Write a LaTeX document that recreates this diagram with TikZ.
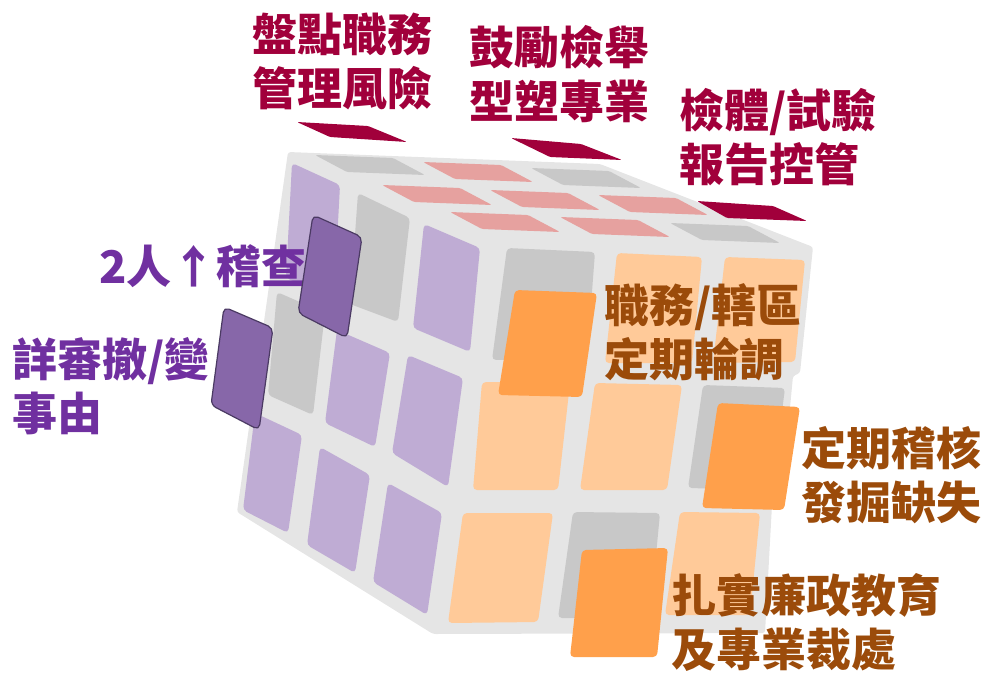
\documentclass[tikz,border=0pt]{standalone}
\usepackage{fontspec}
\newfontfamily\cjk{Noto Sans CJK TC}
\definecolor{cbody}{RGB}{229,229,229}
\definecolor{cgray}{RGB}{200,200,200}
\definecolor{cpurl}{RGB}{191,172,212}
\definecolor{cdpur}{RGB}{135,103,169}
\definecolor{cdpbd}{RGB}{75,58,99}
\definecolor{cpink}{RGB}{230,161,159}
\definecolor{corl}{RGB}{255,202,153}
\definecolor{corb}{RGB}{255,160,75}
\definecolor{cmar}{RGB}{161,0,59}
\definecolor{tpur}{RGB}{112,48,160}
\definecolor{tbrn}{RGB}{155,75,10}
\newcommand\topsticker[3]{\fill[#3] (#1,#2) -- ++(78,3) -- ++(32,17) -- ++(-78,-3) -- cycle;}
\begin{document}
\begin{tikzpicture}[x=0.75pt,y=-0.75pt,
  bodyshape/.style={fill=cbody, rounded corners=2pt},
  gs/.style={fill=cgray, rounded corners=3pt},
  ps/.style={fill=cpurl, rounded corners=3pt},
  pk/.style={fill=cpink, rounded corners=1.2pt},
  gt/.style={fill=cgray, rounded corners=1.2pt},
  lo/.style={fill=corl, rounded corners=3pt},
  bo/.style={fill=corb, rounded corners=3pt},
  dp/.style={fill=cdpur, draw=cdpbd, line width=0.9pt, rounded corners=4pt},
  mb/.style={fill=cmar, rounded corners=1pt},
  lbl/.style={font=\cjk\bfseries\fontsize{33.75}{40.5}\selectfont, align=left, anchor=west, inner sep=0pt}]
\useasboundingbox (0,0) rectangle (987,672);
% cube body
\fill[bodyshape] (288,152) -- (600,164) -- (813,247) -- (800,373) -- (793,376) -- (781,502) -- (772,505) -- (765,633) -- (433,634) -- (237,512) -- cycle;
% top face
\topsticker{315}{155}{gt}
\topsticker{423}{162}{pk}
\topsticker{531}{168}{gt}
\topsticker{382}{185}{pk}
\topsticker{490}{190}{pk}
\topsticker{598}{195}{pk}
\topsticker{450}{212}{pk}
\topsticker{560}{217}{pk}
\topsticker{670}{223}{gt}
% left face
\fill[ps] (292,163) -- (340,185) -- (334,298) -- (286,278) -- cycle;
\fill[gs] (358,193) -- (410,218) -- (398,322) -- (350,304) -- cycle;
\fill[ps] (424,224) -- (480,248) -- (470,352) -- (413,328) -- cycle;
\fill[gs] (277,292) -- (325,313) -- (313,415) -- (268,395) -- cycle;
\fill[ps] (337,330) -- (390,353) -- (375,447) -- (325,423) -- cycle;
\fill[ps] (408,355) -- (463,378) -- (448,487) -- (392,453) -- cycle;
\fill[ps] (255,413) -- (302,435) -- (288,533) -- (243,510) -- cycle;
\fill[ps] (320,447) -- (370,475) -- (355,573) -- (307,545) -- cycle;
\fill[ps] (388,483) -- (442,513) -- (427,615) -- (373,582) -- cycle;
% right face
\fill[gs] (507,248) -- (595,252) -- (587,358) -- (492,360) -- cycle;
\fill[lo] (617,253) -- (702,257) -- (692,363) -- (605,363) -- cycle;
\fill[lo] (725,257) -- (805,260) -- (795,362) -- (713,363) -- cycle;
\fill[lo] (482,382) -- (570,383) -- (558,490) -- (473,490) -- cycle;
\fill[lo] (595,383) -- (682,385) -- (667,490) -- (580,490) -- cycle;
\fill[gs] (703,385) -- (785,388) -- (772,490) -- (688,488) -- cycle;
\fill[lo] (463,513) -- (553,513) -- (538,622) -- (448,623) -- cycle;
\fill[gs] (573,512) -- (660,513) -- (650,618) -- (558,618) -- cycle;
\fill[lo] (680,512) -- (760,513) -- (750,615) -- (665,615) -- cycle;
% floating top bars
\fill[mb] (297,122) -- (368,126) -- (407,142) -- (330,137) -- cycle;
\fill[mb] (511,138) -- (581,144) -- (622,160) -- (550,157) -- cycle;
\fill[mb] (697,201) -- (773,206) -- (807,221) -- (727,218) -- cycle;
% labels
\node[lbl, text=cmar] (t1) at (252,61.5) {盤點職務\\管理風險};
\node[lbl, text=cmar] (t2) at (469,74) {鼓勵檢舉\\型塑專業};
\node[lbl, text=cmar] (t3) at (679,137) {檢體/試驗\\報告控管};
\node[lbl, text=tpur] (t4) at (99,266.5) {2人↑稽查};
\node[lbl, text=tpur] (t5) at (12,386.5) {詳審撤/變\\事由};
\node[lbl, text=tbrn] (t6) at (604,332.5) {職務/轄區\\定期輪調};
\node[lbl, text=tbrn] (t7) at (801,475.5) {定期稽核\\發掘缺失};
\node[lbl, text=tbrn] (t8) at (671,622) {扎實廉政教育\\及專業裁處};
% floating stickers
\draw[dp] (313,215) -- (362,237) -- (347,338) -- (298,313) -- cycle;
\draw[dp] (224,307) -- (273,328) -- (259,430) -- (211,405) -- cycle;
\fill[bo] (515,290) -- (597,293) -- (582,397) -- (498,395) -- cycle;
\fill[bo] (718,403) -- (800,407) -- (784,510) -- (702,508) -- cycle;
\fill[bo] (582,550) -- (668,548) -- (657,657) -- (570,657) -- cycle;
\end{tikzpicture}
\end{document}
